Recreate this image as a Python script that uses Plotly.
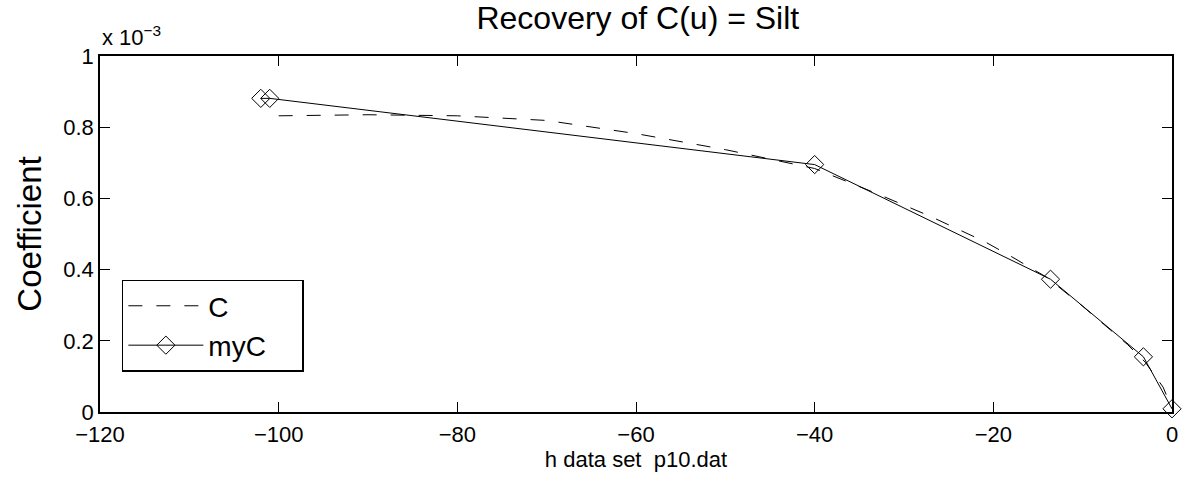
import plotly.graph_objects as go

# Data (Coefficient in real units)
c_h = [-100, -90, -80, -70, -60, -50, -40, -33, -27, -21, -18, -14, -10, -5, -3, -1, 0]
c_val = [0.832e-3, 0.835e-3, 0.832e-3, 0.819e-3, 0.782e-3, 0.737e-3, 0.684e-3, 0.613e-3,
         0.549e-3, 0.479e-3, 0.437e-3, 0.378e-3, 0.297e-3, 0.19e-3, 0.14e-3, 0.07e-3, 0.01e-3]

myc_h = [-102, -101, -40, -13.6, -3.2, 0]
myc_val = [0.881e-3, 0.881e-3, 0.695e-3, 0.373e-3, 0.155e-3, 0.009e-3]

x_ticks = [-120, -100, -80, -60, -40, -20, 0]
y_ticks = [0, 0.2e-3, 0.4e-3, 0.6e-3, 0.8e-3, 1.0e-3]
y_ticktext = ["0", "0.2", "0.4", "0.6", "0.8", "1"]

FONT = "Liberation Sans, Arial, Helvetica, sans-serif"
PAD = "\u00a0" * 4

fig = go.Figure()
fig.add_trace(go.Scatter(
    x=c_h, y=c_val, name="C" + PAD, mode="lines",
    line=dict(color="black", width=1, dash="14px,14px"),
    cliponaxis=False,
))
fig.add_trace(go.Scatter(
    x=myc_h, y=myc_val, name="myC" + PAD, mode="lines+markers",
    line=dict(color="black", width=1),
    marker=dict(symbol="diamond-open", size=14, color="black", line=dict(width=1, color="black")),
    cliponaxis=False,
))

axis_common = dict(
    showline=True, linecolor="black", linewidth=1.5, mirror="allticks",
    ticks="inside", ticklen=10, tickwidth=1, tickcolor="black",
    showgrid=False, zeroline=False,
    tickfont=dict(family=FONT, size=22, color="black"),
)

fig.update_layout(
    width=1190, height=479,
    margin=dict(l=100, r=13, t=56, b=66),
    paper_bgcolor="white", plot_bgcolor="white",
    font=dict(family=FONT, color="black"),
    title=dict(text="Recovery of C(u) = Silt", x=0.536, xanchor="center",
               y=0.962, yanchor="middle",
               font=dict(family=FONT, size=32, color="black")),
    xaxis=dict(range=[-120, 0], tickvals=x_ticks, ticklabelstandoff=2,
               title=dict(text="h data set  p10.dat", font=dict(family=FONT, size=22), standoff=4),
               **axis_common),
    yaxis=dict(range=[0, 1.0e-3], tickvals=y_ticks, ticktext=y_ticktext,
               title=dict(text="Coefficient", font=dict(family=FONT, size=33), standoff=12),
               **axis_common),
    legend=dict(x=0.0204, y=0.372, xanchor="left", yanchor="top",
                bgcolor="white", bordercolor="black", borderwidth=1.5,
                font=dict(family=FONT, size=28, color="black"),
                itemwidth=75, tracegroupgap=0),
    showlegend=True,
)

fig.add_annotation(
    text="x 10<sup>−3</sup>", xref="paper", yref="paper", x=0, y=1,
    xanchor="left", yanchor="bottom", yshift=4, showarrow=False,
    font=dict(family=FONT, size=22, color="black"),
)

fig.write_html("out.html")
